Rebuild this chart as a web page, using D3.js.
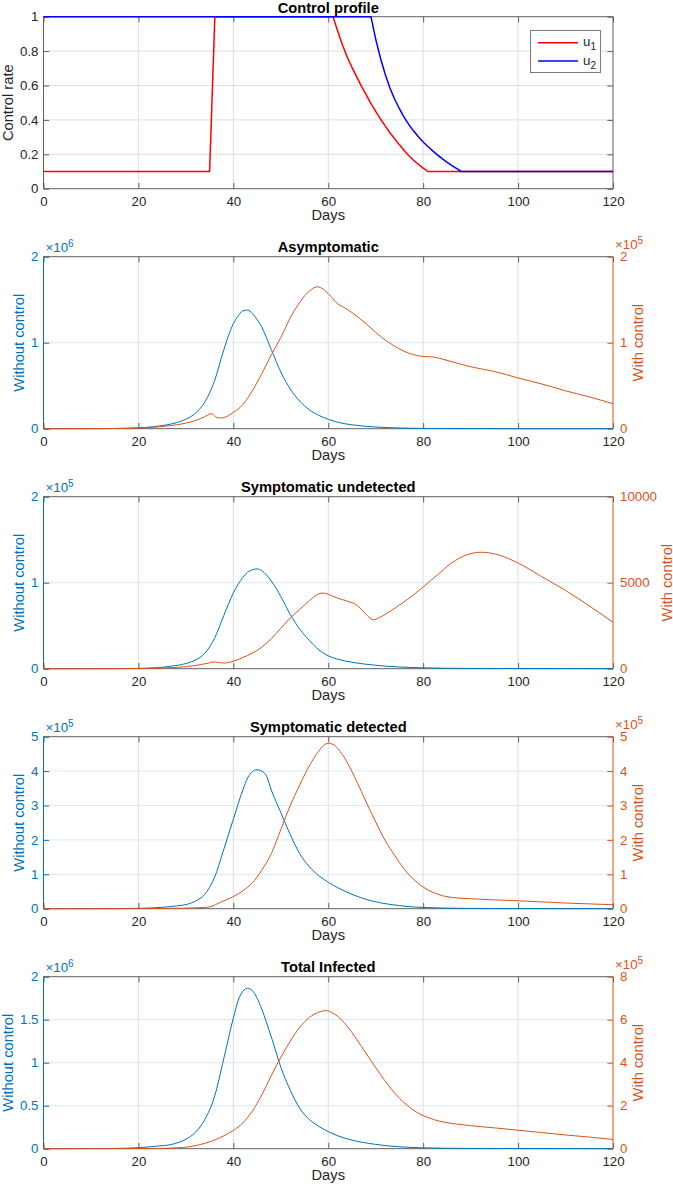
<!DOCTYPE html>
<html><head><meta charset="utf-8">
<script src="https://cdn.jsdelivr.net/npm/d3@7"></script>
<style>
body{margin:0;background:#fff;}
svg{display:block;font-family:"Liberation Sans",Arial,Helvetica,sans-serif;}
</style></head><body>
<svg id="c" width="673" height="1186"></svg>
<script>
// ---------------- DATA ----------------
const xTicks = [0, 20, 40, 60, 80, 100, 120];

// Control profile
const daysU1 = [0,35,36.1,61,62,63,64,65,66,67,68,69,70,71,72,73,74,75,76,77,78,79,80,81,120];
const u1 =     [0.1,0.1,1,1,0.915,0.835,0.765,0.705,0.65,0.595,0.545,0.495,0.45,0.405,0.365,0.325,0.29,0.255,0.222,0.192,0.165,0.142,0.12,0.1,0.1];
const daysU2 = [0,69,70,71,72,73,74,75,76,77,78,79,80,81,82,83,84,85,86,87,88,120];
const u2 =     [1,1,0.87,0.76,0.665,0.585,0.52,0.465,0.415,0.372,0.335,0.302,0.272,0.245,0.22,0.197,0.175,0.155,0.136,0.118,0.1,0.1];
const controlTicks = [0, 0.2, 0.4, 0.6, 0.8, 1];

// Asymptomatic (without: x1e6, with: x1e5)
const daysAsymWithout = [0,10,15,20,23,26,28,30,32,34,36,38,40,41,42,43,44,45,46,48,50,52,54,56,58,60,62,65,70,75,80,90,100,120];
const asymWithout =     [0,0.001,0.003,0.01,0.022,0.045,0.07,0.11,0.18,0.31,0.55,0.92,1.22,1.31,1.37,1.38,1.34,1.27,1.18,0.92,0.66,0.46,0.32,0.22,0.155,0.11,0.075,0.045,0.02,0.008,0.003,0.001,0,0];
const daysAsymWith = [0,15,20,25,28,30,32,34,35,35.5,36,37,38,40,42,44,46,48,50,52,54,56,57.7,59,60,61,62,63,65,68,70,72,74,76,78,80,82,84,86,90,95,100,105,110,115,120];
const asymWith =     [0,0.002,0.008,0.025,0.045,0.065,0.095,0.14,0.17,0.175,0.15,0.125,0.13,0.19,0.28,0.44,0.64,0.86,1.06,1.29,1.47,1.6,1.65,1.62,1.57,1.51,1.45,1.42,1.35,1.22,1.12,1.03,0.96,0.9,0.86,0.84,0.835,0.81,0.78,0.72,0.665,0.59,0.52,0.44,0.37,0.29];

// Symptomatic undetected (without: x1e5, with: plain)
const daysSUWithout = [0,15,20,24,27,30,32,34,36,38,40,42,43,44,45,46,47,48,50,52,54,56,58,60,62,65,70,75,80,90,120];
const suWithout =     [0,0.001,0.004,0.012,0.03,0.06,0.1,0.18,0.35,0.62,0.88,1.06,1.12,1.15,1.16,1.14,1.09,1.02,0.84,0.63,0.46,0.33,0.22,0.15,0.11,0.075,0.04,0.02,0.01,0.003,0];
const daysSUWith = [0,15,20,25,30,33,35,36,37,38,40,42,44,46,48,50,52,54,56,58,59,60,61,62,64,66,67,68,69.5,71,73,75,78,80,83,86,89,92,95,98,101,105,110,115,120];
const suWith =     [0,3,10,40,120,230,340,390,350,330,430,650,900,1250,1750,2350,2950,3450,3950,4350,4400,4330,4200,4100,3930,3700,3450,3150,2840,3000,3330,3700,4300,4750,5450,6150,6600,6770,6680,6400,6000,5350,4550,3650,2700];
const suWithTicks = [0, 5000, 10000];

// Symptomatic detected (both x1e5)
const daysSDWithout = [0,15,20,25,28,30,32,34,36,38,40,42,43,44,45,46,47,48,50,52,54,56,58,60,62,65,68,70,75,80,90,100,120];
const sdWithout =     [0,0.002,0.01,0.04,0.08,0.12,0.22,0.42,0.9,1.73,2.6,3.45,3.8,3.98,4.04,4.0,3.85,3.45,2.8,2.15,1.6,1.22,0.96,0.77,0.61,0.42,0.27,0.2,0.09,0.035,0.008,0.002,0];
const daysSDWith = [0,20,25,30,33,35,35.5,37,40,42,44,46,48,50,52,54,56,58,59,60,61,62,63,64,66,68,70,72,74,76,78,80,82,84,86,90,100,110,120];
const sdWith =     [0,0.002,0.006,0.015,0.03,0.05,0.07,0.17,0.35,0.52,0.75,1.12,1.6,2.3,3.0,3.6,4.15,4.58,4.74,4.81,4.78,4.66,4.48,4.25,3.7,3.1,2.52,1.98,1.55,1.15,0.85,0.63,0.48,0.38,0.33,0.29,0.23,0.165,0.115];

// Total infected (without: x1e6, with: x1e5)
const daysTotWithout = [0,15,20,24,27,30,32,34,36,38,40,41,42,43,44,45,46,48,50,52,54,56,58,60,62,65,70,75,80,90,120];
const totWithout =     [0,0.003,0.012,0.03,0.05,0.11,0.19,0.34,0.6,1.05,1.52,1.72,1.83,1.865,1.84,1.75,1.62,1.3,0.95,0.68,0.47,0.34,0.26,0.2,0.15,0.1,0.05,0.022,0.01,0.003,0];
const daysTotWith = [0,20,25,28,31,34,36,38,40,42,44,46,48,50,52,54,56,58,59.7,61,63,65,67,69,71,73,75,77,79,81,84,87,90,95,100,105,110,115,120];
const totWith =     [0,0.005,0.015,0.04,0.1,0.25,0.4,0.6,0.85,1.2,1.75,2.5,3.4,4.25,5.0,5.65,6.1,6.35,6.42,6.3,5.95,5.4,4.75,4.1,3.45,2.85,2.35,1.95,1.65,1.45,1.25,1.15,1.07,0.97,0.86,0.75,0.64,0.54,0.43];

// ---------------- DRAW ----------------
const BLUE = "#0072BD", ORANGE = "#D95319", DARK = "#262626", BOX = "#5f5f5f";
const svg = d3.select("#c");
const L = 43.5, R = 613, PH = 172, TICK = 5.7;
const FS_TICK = 13.3, FS_LAB = 14.7;
const zip = (xs, ys) => xs.map((d, i) => [d, ys[i]]);

function drawPanel(k, o) {
  const top = 16.7 + 240 * k, bottom = top + PH;
  const x = d3.scaleLinear().domain([0, 120]).range([L, R]);
  const yL = d3.scaleLinear().domain(o.leftDomain).range([bottom, top]);
  const yR = o.rightDomain ? d3.scaleLinear().domain(o.rightDomain).range([bottom, top]) : null;
  const g = svg.append("g");
  const leftColor = o.dual ? BLUE : DARK;

  // grid
  g.append("g").selectAll("line").data(xTicks.slice(1, -1)).join("line")
    .attr("x1", d => x(d)).attr("x2", d => x(d)).attr("y1", top).attr("y2", bottom)
    .attr("stroke", "#dedede").attr("stroke-width", 1);
  g.append("g").selectAll("line").data(o.leftTicks.slice(1, -1)).join("line")
    .attr("x1", L).attr("x2", R).attr("y1", d => yL(d)).attr("y2", d => yL(d))
    .attr("stroke", o.dual ? "#d9e9f5" : "#dedede").attr("stroke-width", 1);

  // top & bottom edges
  g.append("line").attr("x1", L).attr("x2", R).attr("y1", top).attr("y2", top).attr("stroke", BOX);
  g.append("line").attr("x1", L).attr("x2", R).attr("y1", bottom).attr("y2", bottom).attr("stroke", BOX);

  // bottom axis
  const ax = g.append("g").attr("transform", `translate(0,${bottom})`)
    .call(d3.axisBottom(x).tickValues(xTicks).tickSize(-TICK).tickPadding(7.5).tickFormat(d3.format("d")));
  ax.select(".domain").remove();
  ax.selectAll("line").attr("stroke", BOX);
  ax.selectAll("text").attr("fill", DARK).attr("font-size", FS_TICK);
  // top ticks
  const axT = g.append("g").attr("transform", `translate(0,${top})`)
    .call(d3.axisTop(x).tickValues(xTicks).tickSize(-TICK).tickFormat(""));
  axT.select(".domain").remove();
  axT.selectAll("line").attr("stroke", BOX);

  // left axis
  const ayl = g.append("g").attr("transform", `translate(${L},0)`)
    .call(d3.axisLeft(yL).tickValues(o.leftTicks).tickSize(-TICK).tickPadding(5).tickFormat(o.leftFmt));
  ayl.select(".domain").attr("stroke", o.dual ? BLUE : BOX).attr("d", `M0,${top}V${bottom}`);
  ayl.selectAll("line").attr("stroke", o.dual ? BLUE : BOX);
  ayl.selectAll("text").attr("fill", leftColor).attr("font-size", FS_TICK);

  // right axis
  let ayr;
  if (yR) {
    ayr = g.append("g").attr("transform", `translate(${R},0)`)
      .call(d3.axisRight(yR).tickValues(o.rightTicks).tickSize(-TICK).tickPadding(7).tickFormat(o.rightFmt));
    ayr.select(".domain").attr("stroke", ORANGE).attr("d", `M0,${top}V${bottom}`);
    ayr.selectAll("line").attr("stroke", ORANGE);
    ayr.selectAll("text").attr("fill", ORANGE).attr("font-size", FS_TICK);
  } else {
    ayr = g.append("g").attr("transform", `translate(${R},0)`)
      .call(d3.axisRight(yL).tickValues(o.leftTicks).tickSize(-TICK).tickFormat(""));
    ayr.select(".domain").attr("stroke", BOX).attr("d", `M0,${top}V${bottom}`);
    ayr.selectAll("line").attr("stroke", BOX);
  }
  g.selectAll("g").attr("font-family", null);

  // data lines
  o.series.forEach(s => {
    const ys = s.axis === "right" ? yR : yL;
    g.append("path").datum(zip(s.days, s.values))
      .attr("fill", "none").attr("stroke", s.color).attr("stroke-width", s.width || 1)
      .attr("stroke-linejoin", "round")
      .attr("d", d3.line().x(d => x(d[0])).y(d => ys(d[1])).curve(s.curve || d3.curveMonotoneX));
  });

  // title
  g.append("text").attr("x", (L + R) / 2).attr("y", Math.max(top - 5, 12.5)).attr("text-anchor", "middle")
    .attr("font-size", FS_LAB).attr("font-weight", "bold").attr("fill", "#000").text(o.title);
  // x label
  g.append("text").attr("x", (L + R) / 2).attr("y", bottom + 31).attr("text-anchor", "middle")
    .attr("font-size", FS_LAB).attr("fill", DARK).text("Days");

  // exponent labels
  const expo = (xx, yy, color, p) => {
    const t = g.append("text").attr("x", xx).attr("y", yy).attr("fill", color).attr("font-size", FS_TICK);
    t.append("tspan").text("×10");
    t.append("tspan").attr("dy", -5).attr("font-size", 10).text(p);
  };
  if (o.leftExp) expo(L + 2, top - 4.5, BLUE, o.leftExp);
  if (o.rightExp) expo(R + 2, top - 8, ORANGE, o.rightExp);

  // y labels
  const midY = (top + bottom) / 2;
  let minLeft = Infinity;
  ayl.selectAll("text").each(function () { const b = this.getBBox(); minLeft = Math.min(minLeft, L + b.x); });
  g.append("text").attr("transform", `translate(${Math.max(minLeft - 7.5, 11)},${midY}) rotate(-90)`)
    .attr("text-anchor", "middle").attr("font-size", FS_LAB).attr("fill", leftColor).text(o.leftLabel);
  if (yR) {
    let maxRight = -Infinity;
    ayr.selectAll("text").each(function () { const b = this.getBBox(); maxRight = Math.max(maxRight, R + b.x + b.width); });
    g.append("text").attr("transform", `translate(${maxRight + 15.5},${midY}) rotate(-90)`)
      .attr("text-anchor", "middle").attr("font-size", FS_LAB).attr("fill", ORANGE).text(o.rightLabel);
  }
  return { g, x, yL, top };
}

const numFmt = d => String(+d.toFixed(2));

// Panel 1: control profile
const p1 = drawPanel(0, {
  title: "Control profile", dual: false,
  leftDomain: [0, 1], leftTicks: controlTicks, leftFmt: numFmt, leftLabel: "Control rate",
  series: [
    { days: daysU1, values: u1, color: "#ff0000", width: 1.5, curve: d3.curveLinear },
    { days: daysU2, values: u2, color: "#0000ff", width: 1.5, curve: d3.curveLinear }
  ]
});
// legend
(function () {
  const lg = p1.g.append("g");
  lg.append("rect").attr("x", 530.5).attr("y", 30.5).attr("width", 70).attr("height", 42)
    .attr("fill", "#fff").attr("stroke", "#7a7a7a");
  const items = [{ c: "#ff0000", s: "1", y: 42.7 }, { c: "#0000ff", s: "2", y: 61 }];
  items.forEach(it => {
    lg.append("line").attr("x1", 538).attr("x2", 578).attr("y1", it.y).attr("y2", it.y)
      .attr("stroke", it.c).attr("stroke-width", 1.5);
    const t = lg.append("text").attr("x", 583).attr("y", it.y + 3.5).attr("font-size", FS_TICK).attr("fill", DARK);
    t.append("tspan").text("u");
    t.append("tspan").attr("dy", 4).attr("font-size", 10).text(it.s);
  });
})();

drawPanel(1, {
  title: "Asymptomatic", dual: true,
  leftDomain: [0, 2], leftTicks: [0, 1, 2], leftFmt: numFmt, leftExp: "6", leftLabel: "Without control",
  rightDomain: [0, 2], rightTicks: [0, 1, 2], rightFmt: numFmt, rightExp: "5", rightLabel: "With control",
  series: [
    { days: daysAsymWithout, values: asymWithout, color: BLUE },
    { days: daysAsymWith, values: asymWith, color: ORANGE, axis: "right" }
  ]
});
drawPanel(2, {
  title: "Symptomatic undetected", dual: true,
  leftDomain: [0, 2], leftTicks: [0, 1, 2], leftFmt: numFmt, leftExp: "5", leftLabel: "Without control",
  rightDomain: [0, 10000], rightTicks: suWithTicks, rightFmt: d3.format("d"), rightLabel: "With control",
  series: [
    { days: daysSUWithout, values: suWithout, color: BLUE },
    { days: daysSUWith, values: suWith, color: ORANGE, axis: "right" }
  ]
});
drawPanel(3, {
  title: "Symptomatic detected", dual: true,
  leftDomain: [0, 5], leftTicks: [0, 1, 2, 3, 4, 5], leftFmt: numFmt, leftExp: "5", leftLabel: "Without control",
  rightDomain: [0, 5], rightTicks: [0, 1, 2, 3, 4, 5], rightFmt: numFmt, rightExp: "5", rightLabel: "With control",
  series: [
    { days: daysSDWithout, values: sdWithout, color: BLUE },
    { days: daysSDWith, values: sdWith, color: ORANGE, axis: "right" }
  ]
});
drawPanel(4, {
  title: "Total Infected", dual: true,
  leftDomain: [0, 2], leftTicks: [0, 0.5, 1, 1.5, 2], leftFmt: numFmt, leftExp: "6", leftLabel: "Without control",
  rightDomain: [0, 8], rightTicks: [0, 2, 4, 6, 8], rightFmt: numFmt, rightExp: "5", rightLabel: "With control",
  series: [
    { days: daysTotWithout, values: totWithout, color: BLUE },
    { days: daysTotWith, values: totWith, color: ORANGE, axis: "right" }
  ]
});
</script>
</body></html>
